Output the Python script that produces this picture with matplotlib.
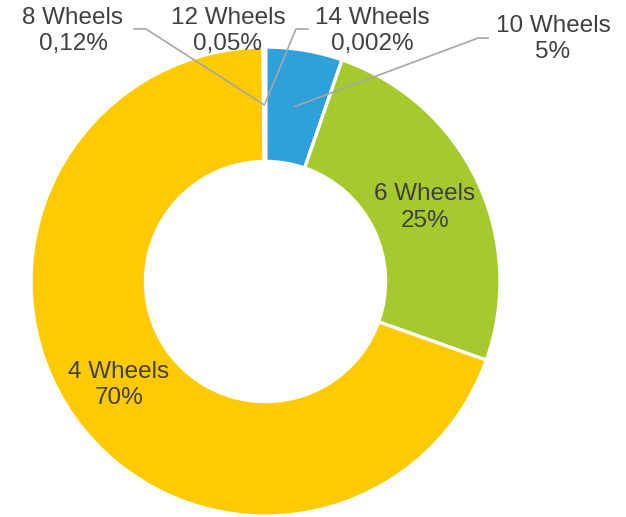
import numpy as np
import matplotlib
matplotlib.use("Agg")
import matplotlib.pyplot as plt

categories = ["10 Wheels", "6 Wheels", "4 Wheels", "8 Wheels", "12 Wheels", "14 Wheels"]
values = [5.3, 25.2, 69.5, 0.12, 0.05, 0.002]
pct_labels = ["5%", "25%", "70%", "0,12%", "0,05%", "0,002%"]
colors = ["#2EA1DB", "#A6C92E", "#FFCA00", "#7F7F7F", "#C0504D", "#4F81BD"]

plt.rcParams['font.family'] = ['Liberation Sans', 'DejaVu Sans']

W, H = 626, 517
fig = plt.figure(figsize=(W / 100, H / 100), dpi=100)
cx, cy, R = 265.5, 281.5, 234.5
ax = fig.add_axes([(cx - R) / W, (H - cy - R) / H, 2 * R / W, 2 * R / H])

wedges, _ = ax.pie(values, colors=colors, startangle=90, counterclock=False,
                   radius=1, wedgeprops=dict(width=0.488, edgecolor='white', linewidth=2.4))
ax.set_xlim(-1, 1)
ax.set_ylim(-1, 1)
ax.set_aspect('equal')
ax.axis('off')

# label positions (data units)
label_pos = {
    "10 Wheels": (1.226, 1.034),
    "6 Wheels": (0.680, 0.316),
    "4 Wheels": (-0.625, -0.441),
    "8 Wheels": (-0.821, 1.068),
    "12 Wheels": (-0.160, 1.068),
    "14 Wheels": (0.454, 1.068),
}
# leader line elbows: (start x, elbow x, y, end radius)
leaders = {
    "8 Wheels": (-0.561, -0.510, 1.077, 0.753),
    "12 Wheels": (0.181, 0.130, 1.077, 0.761),
    "10 Wheels": (0.949, 0.906, 1.038, 0.757),
}

for w, cat, pl in zip(wedges, categories, pct_labels):
    x, y = label_pos[cat]
    ax.text(x, y, f"{cat}\n{pl}", ha='center', va='center', fontsize=17.5,
            color='#404040', linespacing=1.25, clip_on=False)
    if cat in leaders:
        x0, x1, ly, r = leaders[cat]
        ang = np.deg2rad((w.theta1 + w.theta2) / 2)
        ex, ey = r * np.cos(ang), r * np.sin(ang)
        ax.plot([x0, x1, ex], [ly, ly, ey], color='#A6A6A6', lw=1.2,
                clip_on=False, zorder=5)

fig.savefig("out.png", dpi=100)
